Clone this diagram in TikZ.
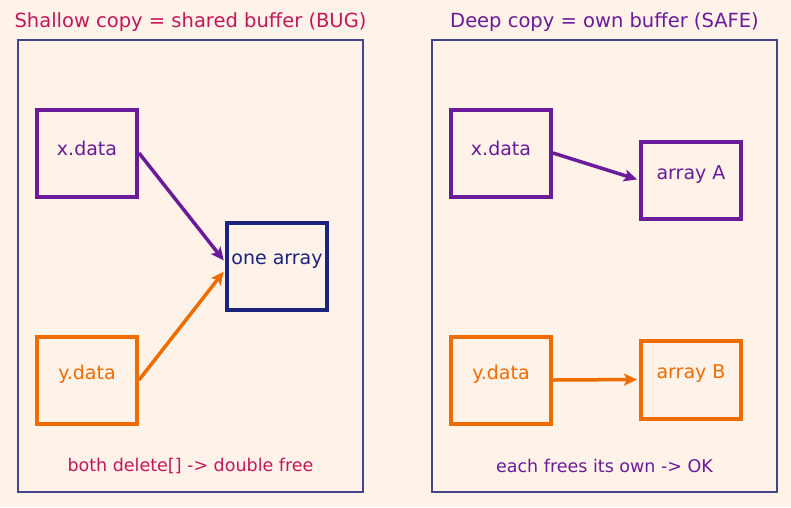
\documentclass[tikz,border=0pt]{standalone}
\usepackage{fontspec}
\setmainfont{DejaVu Sans}
\usetikzlibrary{arrows.meta}
\definecolor{bg}{HTML}{FFF2E8}
\definecolor{crim}{HTML}{C2185B}
\definecolor{purp}{HTML}{6A1B9A}
\definecolor{orng}{HTML}{EF6C00}
\definecolor{navy}{HTML}{1A237E}
\definecolor{panel}{HTML}{45458C}
\begin{document}
\begin{tikzpicture}[x=1pt,y=-1pt,
  panelbox/.style={draw=panel,line width=1.5pt},
  box/.style={draw=#1,line width=4pt,minimum width=100pt,minimum height=87pt,inner sep=0pt},
  lbl/.style={text=#1,font=\fontsize{19}{22}\selectfont,inner sep=0pt},
  ttl/.style={text=#1,font=\fontsize{19.5}{23}\selectfont,inner sep=0pt},
  note/.style={text=#1,font=\fontsize{17.5}{21}\selectfont,inner sep=0pt},
  arr/.style={draw=#1,line width=3.5pt,shorten >=2pt,-{Stealth[length=13pt,width=12pt,inset=3pt]}}]
\fill[bg] (0,0) rectangle (791,507);
\useasboundingbox (0,0) rectangle (791,507);
% panels
\draw[panelbox] (18,40) rectangle (363,492);
\draw[panelbox] (432,40) rectangle (777,492);
% titles
\node[ttl=crim] (t1) at (190.5,22) {Shallow copy = shared buffer (BUG)};
\node[ttl=purp] (t2) at (604.5,22) {Deep copy = own buffer (SAFE)};
% left boxes
\node[box=purp] (xl) at (87,153) {};
\node[lbl=purp] (xlt) at (87,148) {x.data};
\node[box=orng] (yl) at (87,380) {};
\node[lbl=orng] (ylt) at (87,374) {y.data};
\node[box=navy] (one) at (277,266) {};
\node[lbl=navy] (onet) at (277,261) {one array};
\coordinate (oneA) at ([yshift=4pt]one.west);
\coordinate (oneB) at ([yshift=-4pt]one.west);
\draw[arr=purp] (xl.east) -- (oneA);
\draw[arr=orng] (yl.east) -- (oneB);
\node[note=crim] (n1) at (190.5,466) {both delete[] -> double free};
% right boxes
\node[box=purp] (xr) at (501,153) {};
\node[lbl=purp] (xrt) at (501,148) {x.data};
\node[box=orng] (yr) at (501,380) {};
\node[lbl=orng] (yrt) at (501,374) {y.data};
\node[box=purp,minimum height=77pt] (aa) at (691,180) {};
\node[lbl=purp] (aat) at (691,175) {array A};
\node[box=orng,minimum height=78pt] (ab) at (691,379.5) {};
\node[lbl=orng] (abt) at (691,374) {array B};
\draw[arr=purp] (xr.east) -- (aa.west);
\draw[arr=orng] (yr.east) -- (ab.west);
\node[note=purp] (n2) at (604.5,466) {each frees its own -> OK};
\end{tikzpicture}
\end{document}
